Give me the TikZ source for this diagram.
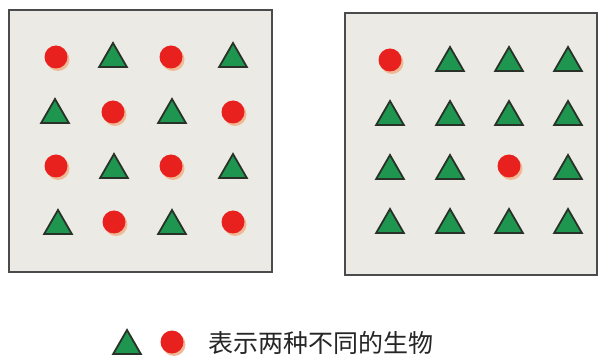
\documentclass[tikz,border=0pt]{standalone}
\usepackage{fontspec}
\newfontfamily\cjk{Noto Sans CJK SC}
\usetikzlibrary{shapes.geometric,shadows}
\definecolor{boxbg}{RGB}{236,234,228}
\definecolor{boxline}{RGB}{75,75,75}
\definecolor{dotred}{RGB}{232,32,30}
\definecolor{dotshadow}{RGB}{240,185,150}
\definecolor{trigreen}{RGB}{30,150,80}
\definecolor{triline}{RGB}{40,50,40}
\tikzset{
  panel/.style={draw=boxline,line width=2pt,fill=boxbg},
  tri/.style={regular polygon,regular polygon sides=3,minimum size=32pt,inner sep=0pt,
    fill=trigreen,draw=triline,line width=1.8pt},
  dot/.style={circle,minimum size=23pt,inner sep=0pt,fill=dotred,
    drop shadow={shadow xshift=2pt,shadow yshift=-2.5pt,fill=dotshadow,opacity=1}},
  legend/.style={font=\cjk\fontsize{25}{28}\selectfont,anchor=west,inner sep=0pt,text=black!85}
}
\begin{document}
\begin{tikzpicture}[x=1pt,y=-1pt]
\useasboundingbox (0,0) rectangle (600,358);
\fill[white] (0,0) rectangle (600,358);
% panels
\node[panel,minimum width=263pt,minimum height=262pt,inner sep=0pt] (lp) at (140.5,141) {};
\node[panel,minimum width=252pt,minimum height=262pt,inner sep=0pt] (rp) at (471,144) {};
% left panel
\node[dot] (l11) at (56,57) {};
\node[tri] (l12) at (113,59) {};
\node[dot] (l13) at (171,57) {};
\node[tri] (l14) at (233,59) {};
\node[tri] (l21) at (55,115) {};
\node[dot] (l22) at (113,112) {};
\node[tri] (l23) at (172,115) {};
\node[dot] (l24) at (233,112) {};
\node[dot] (l31) at (56,166) {};
\node[tri] (l32) at (114,170) {};
\node[dot] (l33) at (171,166) {};
\node[tri] (l34) at (233,170) {};
\node[tri] (l41) at (58,226) {};
\node[dot] (l42) at (114,222) {};
\node[tri] (l43) at (172,226) {};
\node[dot] (l44) at (233,222) {};
% right panel
\node[dot] (r11) at (390,60) {};
\node[tri] (r12) at (450,63) {};
\node[tri] (r13) at (509,63) {};
\node[tri] (r14) at (568,63) {};
\node[tri] (r21) at (390,117) {};
\node[tri] (r22) at (450,117) {};
\node[tri] (r23) at (509,117) {};
\node[tri] (r24) at (568,117) {};
\node[tri] (r31) at (390,171) {};
\node[tri] (r32) at (450,171) {};
\node[dot] (r33) at (509,166) {};
\node[tri] (r34) at (568,171) {};
\node[tri] (r41) at (390,225) {};
\node[tri] (r42) at (450,225) {};
\node[tri] (r43) at (509,225) {};
\node[tri] (r44) at (568,225) {};
% legend
\node[tri] (lt) at (127,346) {};
\node[dot] (lc) at (172,342) {};
\node[legend] (lt1) at (208,343) {表示两种不同的生物};
\end{tikzpicture}
\end{document}
